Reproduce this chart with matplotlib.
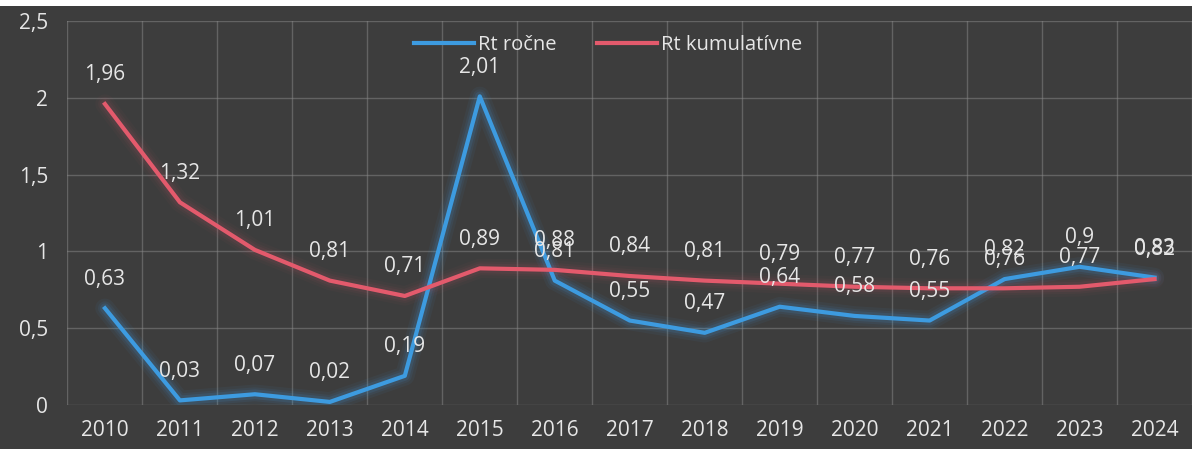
import matplotlib
matplotlib.use("Agg")
import matplotlib.pyplot as plt
import numpy as np
from matplotlib.patches import Rectangle

plt.rcParams['font.family'] = ['Open Sans', 'DejaVu Sans']

years = [2010, 2011, 2012, 2013, 2014, 2015, 2016, 2017, 2018, 2019, 2020, 2021, 2022, 2023, 2024]
rt_rocne = [0.63, 0.03, 0.07, 0.02, 0.19, 2.01, 0.81, 0.55, 0.47, 0.64, 0.58, 0.55, 0.82, 0.90, 0.83]
rt_kumul = [1.96, 1.32, 1.01, 0.81, 0.71, 0.89, 0.88, 0.84, 0.81, 0.79, 0.77, 0.76, 0.76, 0.77, 0.82]

bg = '#3d3d3d'
txt = '#e6e6e6'
blue = '#3d9be0'
red = '#e35a6c'

def fmt(v):
    return ('%g' % v).replace('.', ',')

fig = plt.figure(figsize=(11.92, 4.49), dpi=100)
fig.patch.set_facecolor(bg)
fig.add_artist(Rectangle((0, 1 - 6 / 449), 1, 6 / 449, transform=fig.transFigure,
                         facecolor='white', edgecolor='none', zorder=10))

ax = fig.add_axes([0.0566, 0.098, 0.9434, 0.855])
ax.set_facecolor(bg)
x = np.arange(len(years))

# glow around lines
for lw, a in [(14, 0.06), (10, 0.08), (7, 0.12)]:
    ax.plot(x, rt_rocne, color=blue, lw=lw, alpha=a, solid_capstyle='round')
    ax.plot(x, rt_kumul, color=red, lw=lw, alpha=a * 0.6, solid_capstyle='round')
ax.plot(x, rt_rocne, color=blue, lw=3, label='Rt ročne', zorder=3)
ax.plot(x, rt_kumul, color=red, lw=3, label='Rt kumulatívne', zorder=3)

for xi, v in zip(x, rt_rocne):
    ax.annotate(fmt(v), (xi, v), xytext=(0, 21), textcoords='offset points',
                ha='center', va='center', color=txt, fontsize=15, zorder=4)
for xi, v in zip(x, rt_kumul):
    ax.annotate(fmt(v), (xi, v), xytext=(0, 21), textcoords='offset points',
                ha='center', va='center', color=txt, fontsize=15, zorder=4)

ax.set_xlim(-0.5, len(years) - 0.5)
ax.set_ylim(0, 2.5)
ax.set_xticks(x)
ax.set_xticklabels([str(y) for y in years])
ax.set_yticks([0, 0.5, 1, 1.5, 2, 2.5])
ax.set_yticklabels(['0', '0,5', '1', '1,5', '2', '2,5'])
ax.set_xticks(np.arange(-0.5, len(years), 1), minor=True)
ax.grid(True, which='minor', axis='x', color='#8a8a8a', lw=1, alpha=0.5)
ax.grid(True, which='major', axis='y', color='#8a8a8a', lw=1, alpha=0.5)
ax.tick_params(axis='both', which='both', length=0, colors=txt, labelsize=15)
ax.tick_params(axis='y', pad=14)
ax.tick_params(axis='x', pad=11)
for s in ax.spines.values():
    s.set_visible(False)

leg = fig.legend(loc='center', bbox_to_anchor=(0.51, 0.9), ncol=2, frameon=False,
                 fontsize=14.5, labelcolor=txt, handlelength=3, columnspacing=2.0,
                 handletextpad=0.2)

fig.savefig('out.png', dpi=100, facecolor=fig.get_facecolor())
